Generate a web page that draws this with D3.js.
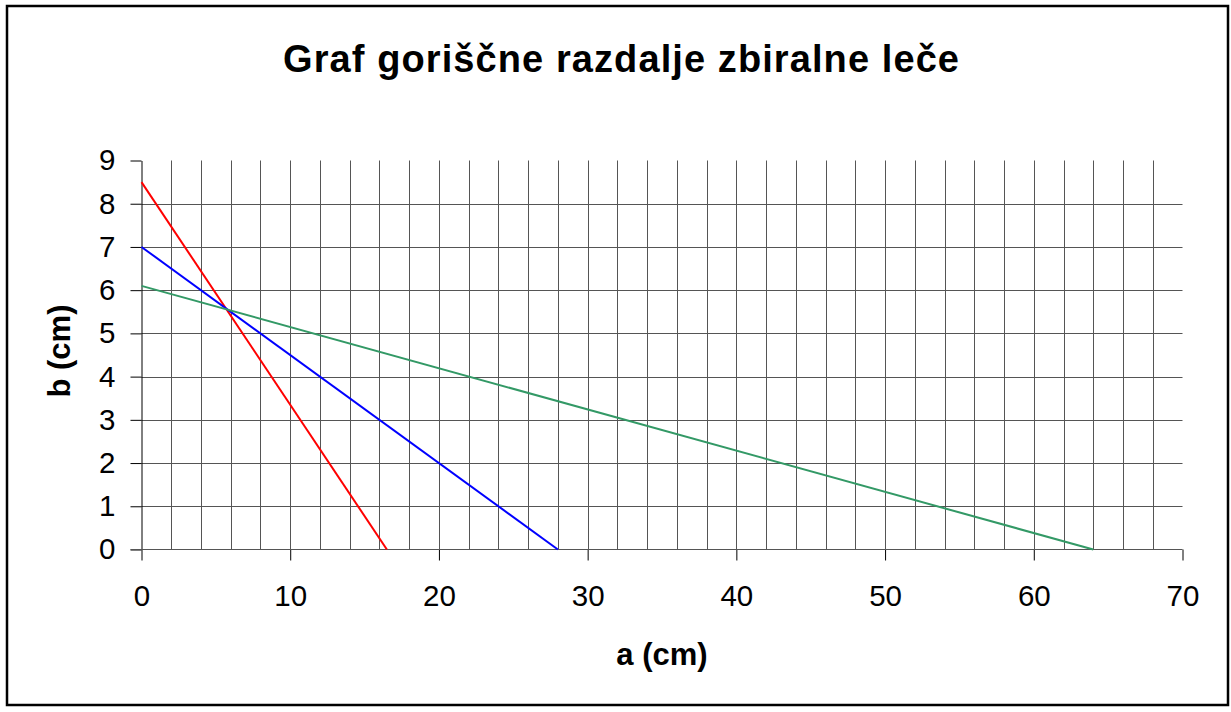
<!DOCTYPE html>
<html><head><meta charset="utf-8">
<script src="https://cdn.jsdelivr.net/npm/d3@7"></script>
<style>body{margin:0;background:#fff}svg{display:block}</style>
</head><body>
<script>
const titleText = "Graf goriščne razdalje zbiralne leče";
const xLabel = "a (cm)";
const yLabel = "b (cm)";
const xTicks = [0,10,20,30,40,50,60,70];
const yTicks = [0,1,2,3,4,5,6,7,8,9];
const xGrid = d3.range(2, 70, 2);
const seriesNames = ["red","blue","green"];
const seriesColors = ["#ff0000","#0000ff","#339966"];
const seriesA = [[0,16.5],[0,28],[0,64]];
const seriesB = [[8.5,0],[7,0],[6.1,0]];

const W=1231,H=712;
const svg=d3.select("body").append("svg").attr("width",W).attr("height",H);
svg.append("rect").attr("x",7).attr("y",6).attr("width",1221).attr("height",699)
  .attr("fill","#fff").attr("stroke","#000").attr("stroke-width",2.5);

const x=d3.scaleLinear().domain([0,70]).range([141.5,1182.5]);
const y=d3.scaleLinear().domain([0,9]).range([549.5,160.5]);
const font="'Liberation Sans', Arial, sans-serif";

// vertical gridlines
svg.append("g").selectAll("line").data(xGrid).join("line")
  .attr("x1",d=>Math.round(x(d))+0.5).attr("x2",d=>Math.round(x(d))+0.5)
  .attr("y1",y(9)).attr("y2",y(0)).attr("stroke","#555").attr("stroke-width",1);
// horizontal gridlines
svg.append("g").selectAll("line").data(yTicks.filter(d=>d>0&&d<9)).join("line")
  .attr("x1",x(0)).attr("x2",x(70)).attr("y1",d=>Math.round(y(d))+0.5).attr("y2",d=>Math.round(y(d))+0.5)
  .attr("stroke","#555").attr("stroke-width",1);

// axes
const xa=svg.append("g").attr("transform",`translate(0,${y(0)})`)
  .call(d3.axisBottom(x).tickValues(xTicks).tickSize(11).tickPadding(25).tickSizeOuter(0));
const ya=svg.append("g").attr("transform",`translate(${x(0)},0)`)
  .call(d3.axisLeft(y).tickValues(yTicks).tickSize(11).tickPadding(15).tickSizeOuter(0));
[xa,ya].forEach(a=>{
  a.selectAll(".tick line").attr("stroke","#000");
  a.selectAll("text").attr("font-family",font).attr("font-size",29.5).attr("fill","#000");
});
xa.select(".domain").remove();
svg.append("line").attr("x1",x(0)-11).attr("x2",x(70)).attr("y1",y(0)).attr("y2",y(0)).attr("stroke","#555");
ya.select(".domain").attr("stroke","#000");

// series lines
const line=d3.line().x(d=>x(d[0])).y(d=>y(d[1]));
seriesNames.forEach((n,i)=>{
  const pts=seriesA[i].map((a,j)=>[a,seriesB[i][j]]);
  svg.append("path").datum(pts).attr("d",line).attr("fill","none")
    .attr("stroke",seriesColors[i]).attr("stroke-width",2);
});

svg.append("text").attr("x",283).attr("y",72)
  .attr("textLength",676).attr("lengthAdjust","spacing")
  .attr("font-family",font).attr("font-weight","bold").attr("font-size",38).text(titleText);
svg.append("text").attr("x",662).attr("y",665).attr("text-anchor","middle")
  .attr("font-family",font).attr("font-weight","bold").attr("font-size",31)
  .attr("xml:space","preserve").text(xLabel);
svg.append("text").attr("transform","translate(70,351) rotate(-90)").attr("text-anchor","middle")
  .attr("font-family",font).attr("font-weight","bold").attr("font-size",31).text(yLabel);
</script>
</body></html>
